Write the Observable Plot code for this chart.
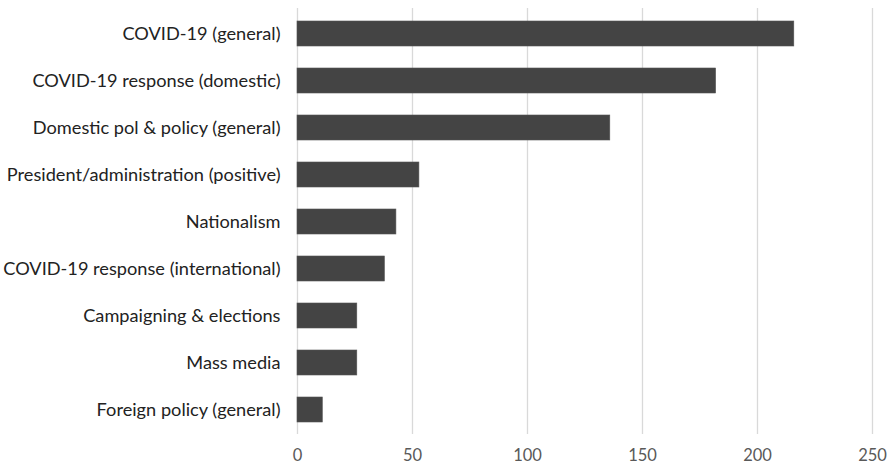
<!DOCTYPE html>
<html>
<head>
<meta charset="utf-8">
<script src="https://cdn.jsdelivr.net/npm/d3@7"></script>
<script src="https://cdn.jsdelivr.net/npm/@observablehq/plot@0.6"></script>
<style>
  html, body { margin: 0; padding: 0; background: #fff; }
  #chart svg { display: block; }
</style>
</head>
<body>
<div id="chart"></div>
<script>
const categories = [
  "COVID-19 (general)",
  "COVID-19 response (domestic)",
  "Domestic pol & policy (general)",
  "President/administration (positive)",
  "Nationalism",
  "COVID-19 response (international)",
  "Campaigning & elections",
  "Mass media",
  "Foreign policy (general)"
];
const counts = [216, 182, 136, 53, 43, 38, 26, 26, 11];
const xTicks = [0, 50, 100, 150, 200, 250];

const data = categories.map((c, i) => ({category: c, count: counts[i]}));

const chart = Plot.plot({
  width: 893,
  height: 469,
  marginLeft: 297,
  marginRight: 21,
  marginTop: 8,
  marginBottom: 35,
  style: {fontFamily: "Lato, 'Open Sans', sans-serif", fontSize: "16px", background: "#fff"},
  x: {domain: [0, 250], ticks: xTicks, label: null},
  y: {domain: categories, paddingInner: 0.47, paddingOuter: 0.235, label: null},
  marks: [
    Plot.gridX(xTicks, {stroke: "#d9d9d9", strokeOpacity: 1, strokeWidth: 1.3}),
    Plot.barX(data, {x: "count", y: "category", fill: "#444444", stroke: "#555", strokeWidth: 0.6}),
    Plot.axisX(xTicks, {tickSize: 0, tickPadding: 15, fill: "#595959", fontSize: 16.5, label: null}),
    Plot.axisY({tickSize: 0, tickPadding: 17, fill: "#222", fontSize: 18.2, label: null})
  ]
});
document.getElementById("chart").appendChild(chart);
</script>
</body>
</html>
